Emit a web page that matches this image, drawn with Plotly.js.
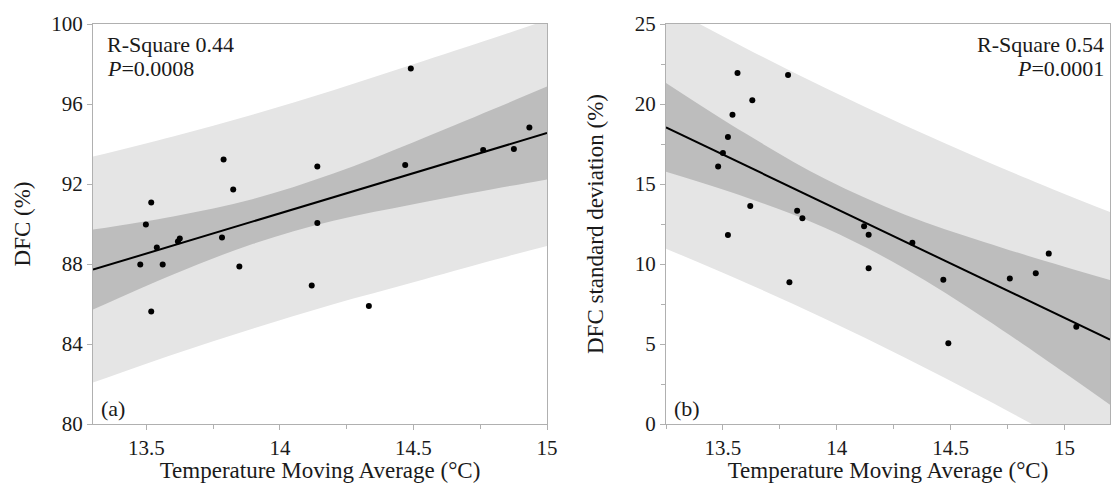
<!DOCTYPE html>
<html>
<head>
<meta charset="utf-8">
<script src="https://cdn.plot.ly/plotly-3.0.1.min.js"></script>
<style>html,body{margin:0;padding:0;background:#fff;}#chart{width:1111px;height:483px;}</style>
</head>
<body>
<div id="chart"></div>
<script>
// ---- Panel (a): DFC vs temperature moving average ----
const tempA = [13.477, 13.498, 13.518, 13.518, 13.539, 13.561, 13.618, 13.625, 13.783, 13.789, 13.825, 13.848, 14.119, 14.14, 14.14, 14.333, 14.469, 14.49, 14.761, 14.876, 14.934];
const dfcA  = [87.97, 89.98, 91.08, 85.63, 88.82, 87.97, 89.12, 89.28, 89.32, 93.23, 91.73, 87.87, 86.92, 92.87, 90.05, 85.9, 92.95, 97.77, 93.7, 93.75, 94.83];
// fit line and bands
const bandXA = [13.3, 13.6, 13.9, 14.2, 14.5, 14.8, 15.0];
const fitA   = [87.72, 88.93, 90.13, 91.34, 92.54, 93.75, 94.55];
const ciLoA  = [85.72, 87.48, 89.01, 90.16, 90.99, 91.75, 92.23];
const ciHiA  = [89.72, 90.38, 91.25, 92.52, 94.09, 95.75, 96.87];
const piLoA  = [82.07, 83.48, 84.78, 85.99, 87.09, 88.20, 88.90];
const piHiA  = [93.37, 94.38, 95.48, 96.69, 97.99, 99.30, 100.20];

// ---- Panel (b): DFC standard deviation vs temperature moving average ----
const tempB = [13.479, 13.5, 13.522, 13.522, 13.542, 13.564, 13.62, 13.629, 13.786, 13.792, 13.826, 13.849, 14.12, 14.14, 14.14, 14.332, 14.468, 14.49, 14.76, 14.874, 14.931, 15.052];
const sdB   = [16.1, 16.94, 17.94, 11.81, 19.33, 21.94, 13.63, 20.23, 21.81, 8.86, 13.33, 12.86, 12.36, 11.83, 9.73, 11.33, 9.02, 5.04, 9.1, 9.42, 10.65, 6.08];
const bandXB = [13.25, 13.6, 13.95, 14.3, 14.65, 15.0, 15.2];
const fitB   = [18.54, 16.16, 13.78, 11.40, 9.01, 6.63, 5.27];
const ciLoB  = [15.76, 14.17, 12.25, 9.71, 6.60, 3.20, 1.20];
const ciHiB  = [21.32, 18.15, 15.31, 13.08, 11.36, 9.83, 9.00];
const piLoB  = [10.96, 8.83, 6.56, 4.14, 1.58, -1.12, -2.71];
const piHiB  = [26.12, 23.49, 21.00, 18.65, 16.45, 14.38, 13.25];

const statsA = ["R-Square 0.44", "<i>P</i>=0.0008"];
const statsB = ["R-Square 0.54", "<i>P</i>=0.0001"];

const LIGHT = "#e5e5e5", DARK = "#bdbdbd";
const FONT = '"Liberation Serif", "Times New Roman", serif';

function bandTraces(bx, lo, hi, color, xa, ya) {
  return [
    {x: bx, y: lo, xaxis: xa, yaxis: ya, mode: "lines", line: {width: 0, shape: "spline"}, hoverinfo: "skip", showlegend: false},
    {x: bx, y: hi, xaxis: xa, yaxis: ya, mode: "lines", line: {width: 0, shape: "spline"}, fill: "tonexty", fillcolor: color, hoverinfo: "skip", showlegend: false}
  ];
}

const traces = [].concat(
  bandTraces(bandXA, piLoA, piHiA, LIGHT, "x", "y"),
  bandTraces(bandXA, ciLoA, ciHiA, DARK, "x", "y"),
  [{x: bandXA, y: fitA, xaxis: "x", yaxis: "y", mode: "lines", line: {color: "#000", width: 2}, showlegend: false},
   {x: tempA, y: dfcA, xaxis: "x", yaxis: "y", mode: "markers", marker: {color: "#000", size: 6}, showlegend: false}],
  bandTraces(bandXB, piLoB, piHiB, LIGHT, "x2", "y2"),
  bandTraces(bandXB, ciLoB, ciHiB, DARK, "x2", "y2"),
  [{x: bandXB, y: fitB, xaxis: "x2", yaxis: "y2", mode: "lines", line: {color: "#000", width: 2}, showlegend: false},
   {x: tempB, y: sdB, xaxis: "x2", yaxis: "y2", mode: "markers", marker: {color: "#000", size: 6}, showlegend: false}]
);

const W = 1111, H = 483, ML = 93, MR = 1, MT = 24, MB = 59;
const PW = W - ML - MR;
const axisCommon = {
  showgrid: false, zeroline: false, showline: true, linecolor: "#b0b0b0", linewidth: 1,
  mirror: true, ticks: "outside", ticklen: 5, tickcolor: "#b0b0b0",
  tickfont: {family: FONT, size: 21, color: "#1a1a1a"}, automargin: false
};
const xTitle = {text: "Temperature Moving Average (°C)", font: {family: FONT, size: 23, color: "#1a1a1a"}, standoff: 7};

const layout = {
  width: W, height: H,
  margin: {l: ML, r: MR, t: MT, b: MB},
  paper_bgcolor: "#fff", plot_bgcolor: "#fff",
  showlegend: false,
  font: {family: FONT, color: "#1a1a1a"},
  xaxis: Object.assign({}, axisCommon, {
    domain: [0, (547 - ML) / PW], range: [13.3, 15], tickvals: [13.5, 14, 14.5, 15],
    ticktext: ["13.5", "14", "14.5", "15"],
    minor: {ticks: "outside", ticklen: 4, tickcolor: "#b0b0b0", dtick: 0.25, tick0: 13},
    title: xTitle, anchor: "y"
  }),
  yaxis: Object.assign({}, axisCommon, {
    domain: [0, 1], range: [80, 100], tickvals: [80, 84, 88, 92, 96, 100],
    title: {text: "DFC (%)", font: {family: FONT, size: 23, color: "#1a1a1a"}, standoff: 14}, anchor: "x"
  }),
  xaxis2: Object.assign({}, axisCommon, {
    domain: [(666 - ML) / PW, 1], range: [13.25, 15.2], tickvals: [13.5, 14, 14.5, 15],
    ticktext: ["13.5", "14", "14.5", "15"],
    minor: {ticks: "outside", ticklen: 4, tickcolor: "#b0b0b0", dtick: 0.25, tick0: 13},
    title: xTitle, anchor: "y2"
  }),
  yaxis2: Object.assign({}, axisCommon, {
    domain: [0, 1], range: [0, 25], tickvals: [0, 5, 10, 15, 20, 25],
    minor: {ticks: "outside", ticklen: 4, tickcolor: "#b0b0b0", dtick: 2.5, tick0: 0},
    title: {text: "DFC standard deviation (%)", font: {family: FONT, size: 23, color: "#1a1a1a"}, standoff: 24}, anchor: "x2"
  }),
  annotations: [
    {xref: "paper", yref: "paper", x: (105 - ML) / PW, y: 1 - (44 - MT) / (H - MT - MB), xanchor: "left", yanchor: "middle", showarrow: false, text: statsA[0], font: {family: FONT, size: 22, color: "#1a1a1a"}},
    {xref: "paper", yref: "paper", x: (105 - ML) / PW, y: 1 - (68 - MT) / (H - MT - MB), xanchor: "left", yanchor: "middle", showarrow: false, text: statsA[1], font: {family: FONT, size: 22, color: "#1a1a1a"}},
    {xref: "paper", yref: "paper", x: (99 - ML) / PW, y: 1 - (408 - MT) / (H - MT - MB), xanchor: "left", yanchor: "middle", showarrow: false, text: "(a)", font: {family: FONT, size: 22, color: "#1a1a1a"}},
    {xref: "paper", yref: "paper", x: (1106 - ML) / PW, y: 1 - (44 - MT) / (H - MT - MB), xanchor: "right", yanchor: "middle", showarrow: false, text: statsB[0], font: {family: FONT, size: 22, color: "#1a1a1a"}},
    {xref: "paper", yref: "paper", x: (1106 - ML) / PW, y: 1 - (68 - MT) / (H - MT - MB), xanchor: "right", yanchor: "middle", showarrow: false, text: statsB[1], font: {family: FONT, size: 22, color: "#1a1a1a"}},
    {xref: "paper", yref: "paper", x: (672 - ML) / PW, y: 1 - (408 - MT) / (H - MT - MB), xanchor: "left", yanchor: "middle", showarrow: false, text: "(b)", font: {family: FONT, size: 22, color: "#1a1a1a"}}
  ]
};

Plotly.newPlot("chart", traces, layout, {displayModeBar: false, staticPlot: true});
</script>
</body>
</html>
